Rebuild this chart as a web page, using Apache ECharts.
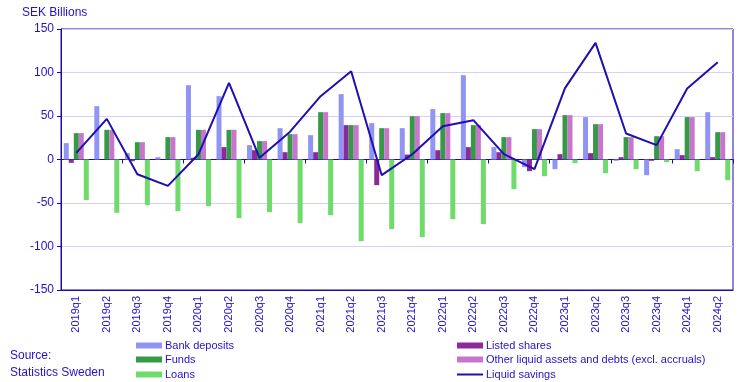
<!DOCTYPE html>
<html>
<head>
<meta charset="utf-8">
<script src="https://cdn.jsdelivr.net/npm/echarts@6/dist/echarts.min.js"></script>
<style>html,body{margin:0;padding:0;background:#fff;}#c{width:756px;height:382px;}</style>
</head>
<body>
<div id="c"></div>
<script>
var categories = ['2019q1','2019q2','2019q3','2019q4','2020q1','2020q2','2020q3','2020q4','2021q1','2021q2','2021q3','2021q4','2022q1','2022q2','2022q3','2022q4','2023q1','2023q2','2023q3','2023q4','2024q1','2024q2'];
var bankDeposits = [18.8, 61.3, 7.3, 2.7, 85.4, 72.8, 16.5, 36, 28, 75.1, 41.8, 36, 57.9, 96.9, 14.2, -8.8, -11.1, 48.7, -1.5, -18, 11.9, 54.4];
var listedShares = [-3.8, 0, -2, 0, 2, 14.2, 10.7, 8.4, 8.4, 39.5, -29.5, 5.7, 10.7, 14.2, 8.4, -13.4, 6.1, 7.3, 2.7, -1.5, 5, 2.7];
var funds = [30.3, 34.1, 19.9, 25.7, 34.1, 34.1, 21.1, 29.1, 54.4, 39.5, 36, 49.8, 53.3, 39.5, 25.7, 34.9, 51, 40.6, 25.7, 26.8, 48.7, 31.4];
var otherLiquid = [30.3, 34.1, 19.9, 25.7, 34.1, 34.1, 21.1, 29.1, 54.4, 39.5, 36, 49.8, 53.3, 39.5, 25.7, 34.9, 51, 40.6, 25.7, 26.8, 48.7, 31.4];
var loans = [-46.7, -61.3, -52.5, -59.4, -53.6, -67.4, -60.5, -73.2, -64, -93.9, -80, -89.3, -68.6, -74.3, -34.1, -19.2, -4.2, -15.7, -11.1, -3, -13.4, -23.8];
var liquidSavings = [7.7, 46.7, -16.9, -30.3, 6, 88.1, 2, 32, 72.8, 101.5, -18, 6, 38.3, 45.2, 6.1, -11.1, 82, 134, 29.9, 16.5, 81.6, 111.9];

var txt = '#2212c8';
var axisCol = '#1c0aa8';
var font = 'Liberation Sans, Arial, sans-serif';

var chart = echarts.init(document.getElementById('c'), null, {renderer: 'canvas'});
function bar(name, data, color) {
  return {name: name, type: 'bar', data: data, barWidth: 5, barGap: '0%', itemStyle: {color: color}, xAxisIndex: 0};
}
function leg(name, left, top, h) {
  return {left: left, top: top, itemWidth: 26, itemHeight: h, padding: 0,
    textStyle: {fontSize: 11, color: txt, fontFamily: font, padding: [0,0,0,-2]},
    data: [{name: name, icon: 'rect'}]};
}
chart.setOption({
  animation: false,
  textStyle: {fontFamily: font},
  title: {text: 'SEK Billions', left: 22, top: 7, padding: 0, textStyle: {fontSize: 12, fontWeight: 'normal', color: txt, fontFamily: font}},
  graphic: [
    {type: 'text', left: 10, top: 350, style: {text: 'Source:', fill: txt, font: '12px ' + font}},
    {type: 'text', left: 10, top: 367, style: {text: 'Statistics Sweden', fill: txt, font: '12px ' + font}}
  ],
  legend: [
    leg('Bank deposits', 136, 340, 6),
    leg('Funds', 136, 354, 6),
    leg('Loans', 136, 369, 6),
    leg('Listed shares', 457, 340, 6),
    leg('Other liquid assets and debts (excl. accruals)', 457, 354, 6),
    leg('Liquid savings', 457, 369, 2)
  ],
  grid: {left: 61, right: 23, top: 29, bottom: 92, show: true, borderColor: axisCol, borderWidth: 1, backgroundColor: 'transparent'},
  xAxis: [
    {type: 'category', data: categories, position: 'bottom',
     axisLine: {onZero: false, lineStyle: {color: axisCol}},
     axisTick: {show: false},
     axisLabel: {rotate: 90, color: txt, fontSize: 11, margin: 6, interval: 0, fontFamily: font}},
    {type: 'category', data: categories, position: 'bottom',
     axisLine: {onZero: true, lineStyle: {color: axisCol, width: 1}},
     axisTick: {show: true, length: 4, lineStyle: {color: axisCol}},
     axisLabel: {show: false}}
  ],
  yAxis: {type: 'value', min: -150, max: 150, interval: 50,
    axisLine: {show: true, lineStyle: {color: axisCol}},
    axisTick: {show: true, length: 4, lineStyle: {color: axisCol}},
    axisLabel: {color: txt, fontSize: 12, margin: 7, fontFamily: font},
    splitLine: {lineStyle: {color: '#d4d0f8', width: 1}}},
  series: [
    bar('Bank deposits', bankDeposits, '#9094f2'),
    bar('Listed shares', listedShares, '#8c2a9c'),
    bar('Funds', funds, '#359946'),
    bar('Other liquid assets and debts (excl. accruals)', otherLiquid, '#c876cc'),
    bar('Loans', loans, '#6edb6a'),
    {name: 'Liquid savings', type: 'line', data: liquidSavings, showSymbol: false, symbol: 'none',
     lineStyle: {color: '#1f0fb0', width: 2}, itemStyle: {color: '#1f0fb0'}, z: 5}
  ]
});
</script>
</body>
</html>
